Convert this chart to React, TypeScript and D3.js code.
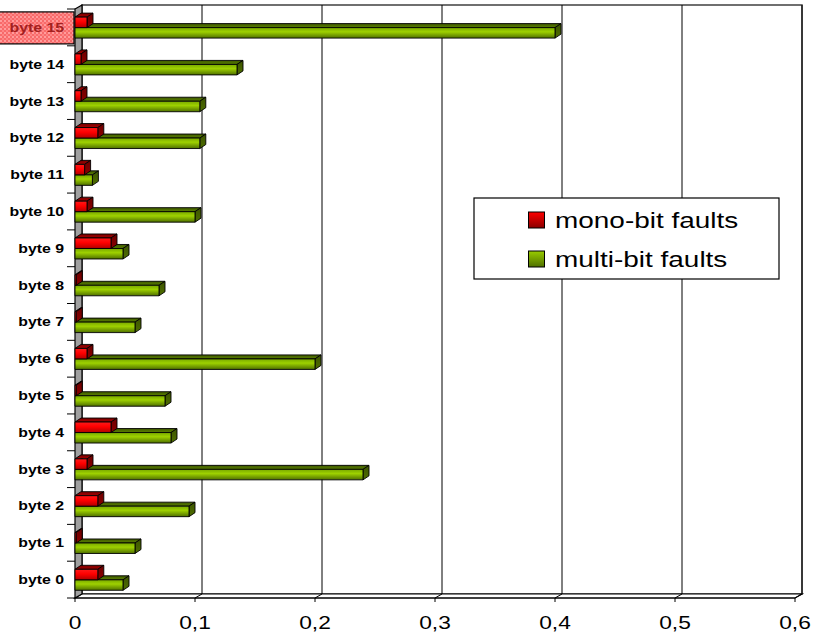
import React from "react";
import * as d3 from "d3";

const categories = [
  "byte 0", "byte 1", "byte 2", "byte 3", "byte 4", "byte 5", "byte 6", "byte 7",
  "byte 8", "byte 9", "byte 10", "byte 11", "byte 12", "byte 13", "byte 14", "byte 15",
];
const monoBit = [0.019, 0.001, 0.019, 0.01, 0.03, 0.001, 0.01, 0.001, 0.001, 0.03, 0.01, 0.008, 0.019, 0.005, 0.005, 0.01];
const multiBit = [0.04, 0.05, 0.095, 0.24, 0.08, 0.075, 0.2, 0.05, 0.07, 0.04, 0.1, 0.0145, 0.104, 0.104, 0.135, 0.4];
const seriesNames = ["mono-bit faults", "multi-bit faults"];
const xTicks = [0, 0.1, 0.2, 0.3, 0.4, 0.5, 0.6];
const xTickLabels = ["0", "0,1", "0,2", "0,3", "0,4", "0,5", "0,6"];
const selectedCategory = "byte 15";

const W = 814;
const H = 634;
// wall depth offset and bar depth offset
const DX = 7, DY = -4;
const BDX = 6, BDY = -4;
const FONT = "'Liberation Sans', Arial, sans-serif";

export default function App() {
  const x = d3.scaleLinear().domain([0, 0.6]).range([75, 795]);
  const y = d3.scaleBand<string>().domain([...categories].reverse()).range([9, 598]);
  const s = d3.scaleBand<string>().domain(seriesNames).range([-10.3, 10.7]);

  const x0 = x(0);
  const yTop = y.range()[0];
  const yBot = y.range()[1];

  const bar = (v: number, yt: number, h: number, id: string, key: string) => {
    const x1 = x(v);
    const front = `M${x0},${yt}H${x1}V${yt + h}H${x0}Z`;
    const top = `M${x0},${yt}L${x1},${yt}L${x1 + BDX},${yt + BDY}L${x0 + BDX},${yt + BDY}Z`;
    const side = `M${x1},${yt}L${x1 + BDX},${yt + BDY}L${x1 + BDX},${yt + h + BDY}L${x1},${yt + h}Z`;
    return (
      <g key={key}>
        <path d={top} fill={`url(#${id}-top)`} stroke="#000" strokeWidth={0.9} strokeLinejoin="round" />
        <path d={side} fill={`url(#${id}-side)`} stroke="#000" strokeWidth={0.9} strokeLinejoin="round" />
        <path d={front} fill={`url(#${id}-face)`} stroke="#000" strokeWidth={0.9} />
      </g>
    );
  };

  const order = categories.map((c, i) => i).reverse();

  return (
    <svg width={W} height={H} style={{ position: "absolute", left: 0, top: 0, background: "#fff" }}>
      <defs>
        <linearGradient id="red-face" x1="0" y1="0" x2="0" y2="1">
          <stop offset="0" stopColor="#ff1a1a" />
          <stop offset="0.45" stopColor="#ff0000" />
          <stop offset="1" stopColor="#b00000" />
        </linearGradient>
        <linearGradient id="red-top" x1="0" y1="0" x2="0" y2="1">
          <stop offset="0" stopColor="#7a0000" />
          <stop offset="1" stopColor="#a30000" />
        </linearGradient>
        <linearGradient id="red-side" x1="0" y1="0" x2="0" y2="1">
          <stop offset="0" stopColor="#6e0000" />
          <stop offset="1" stopColor="#8a0000" />
        </linearGradient>
        <linearGradient id="green-face" x1="0" y1="0" x2="0" y2="1">
          <stop offset="0" stopColor="#78a800" />
          <stop offset="0.4" stopColor="#9ed100" />
          <stop offset="1" stopColor="#4f7000" />
        </linearGradient>
        <linearGradient id="green-top" x1="0" y1="0" x2="0" y2="1">
          <stop offset="0" stopColor="#3f5a00" />
          <stop offset="1" stopColor="#5a7f00" />
        </linearGradient>
        <linearGradient id="green-side" x1="0" y1="0" x2="0" y2="1">
          <stop offset="0" stopColor="#3c5400" />
          <stop offset="1" stopColor="#4f6e00" />
        </linearGradient>
        <linearGradient id="red-sw" x1="0" y1="0" x2="0" y2="1">
          <stop offset="0" stopColor="#ff0000" />
          <stop offset="1" stopColor="#8a0000" />
        </linearGradient>
        <linearGradient id="green-sw" x1="0" y1="0" x2="0" y2="1">
          <stop offset="0" stopColor="#99cc00" />
          <stop offset="1" stopColor="#4f7000" />
        </linearGradient>
        <pattern id="sel" width="4" height="4" patternUnits="userSpaceOnUse">
          <rect width="4" height="4" fill="#f76a6a" />
          <rect width="2" height="2" fill="#ff9c9c" />
          <rect x="2" y="2" width="2" height="2" fill="#ff8484" />
        </pattern>
      </defs>

      {/* back wall */}
      <rect x={x0 + DX} y={yTop + DY} width={x(0.6) - x0} height={yBot - yTop} fill="#fff" stroke="#404040" strokeWidth={1.5} />
      {/* floor */}
      <path
        d={`M${x0},${yBot}L${x(0.6)},${yBot}L${x(0.6) + DX},${yBot + DY}L${x0 + DX},${yBot + DY}Z`}
        fill="#fff" stroke="#000" strokeWidth={1.2}
      />
      {/* gridlines on the back wall and floor */}
      {xTicks.slice(1).map((t) => (
        <g key={`g${t}`}>
          <line x1={x(t) + DX} x2={x(t) + DX} y1={yTop + DY} y2={yBot + DY} stroke="#000" strokeWidth={1} />
          <line x1={x(t)} x2={x(t) + DX} y1={yBot} y2={yBot + DY} stroke="#000" strokeWidth={1} />
        </g>
      ))}
      {/* left side wall */}
      <path
        d={`M${x0},${yTop}L${x0 + DX},${yTop + DY}L${x0 + DX},${yBot + DY}L${x0},${yBot}Z`}
        fill="#a0a0a0" stroke="#000" strokeWidth={1.2}
      />

      {/* category ticks */}
      {categories.map((c) => (
        <line key={`t${c}`} x1={67} x2={x0} y1={(y(c) as number) + y.bandwidth()} y2={(y(c) as number) + y.bandwidth()} stroke="#000" strokeWidth={1} />
      ))}
      <line x1={67} x2={x0} y1={yTop} y2={yTop} stroke="#000" strokeWidth={1} />

      {/* bars */}
      {order.map((i) => {
        const c = categories[i];
        const mid = (y(c) as number) + y.bandwidth() / 2;
        const h = s.bandwidth();
        return (
          <g key={c}>
            {bar(multiBit[i], mid + (s(seriesNames[1]) as number), h, "green", "m")}
            {bar(monoBit[i], mid + (s(seriesNames[0]) as number), h, "red", "r")}
          </g>
        );
      })}

      {/* x axis */}
      <line x1={x0} x2={x(0.6)} y1={yBot} y2={yBot} stroke="#000" strokeWidth={1.2} />
      {xTicks.map((t, i) => (
        <g key={`x${t}`}>
          <line x1={x(t)} x2={x(t)} y1={yBot} y2={yBot + 4} stroke="#000" strokeWidth={1} />
          <text
            transform={`translate(${x(t)},${628.5}) scale(1.23,1)`}
            textAnchor="middle" fontFamily={FONT} fontSize={18.5} fill="#000"
          >
            {xTickLabels[i]}
          </text>
        </g>
      ))}

      {/* category labels */}
      {categories.map((c) => {
        const mid = (y(c) as number) + y.bandwidth() / 2;
        const sel = c === selectedCategory;
        return (
          <g key={`l${c}`}>
            {sel && <rect x={-2} y={mid - 15.5} width={76} height={32} fill="url(#sel)" stroke="#000" strokeWidth={1.2} />}
            <text
              transform={`translate(64,${mid + 4.5}) scale(1.2,1)`}
              textAnchor="end" fontFamily={FONT} fontWeight="bold" fontSize={13.2}
              fill={sel ? "#a32020" : "#000"}
            >
              {c}
            </text>
          </g>
        );
      })}

      {/* legend */}
      <rect x={474} y={198} width={305} height={81} fill="#fff" stroke="#000" strokeWidth={1.2} />
      {seriesNames.map((n, i) => (
        <g key={n} transform={`translate(0,${i * 39})`}>
          <rect x={528.5} y={212} width={16} height={16} fill={i === 0 ? "url(#red-sw)" : "url(#green-sw)"} stroke="#000" strokeWidth={1} />
          <text transform={`translate(555,227.5) scale(1.3,1)`} fontFamily={FONT} fontSize={21.5} fill="#000">
            {n}
          </text>
        </g>
      ))}
    </svg>
  );
}
